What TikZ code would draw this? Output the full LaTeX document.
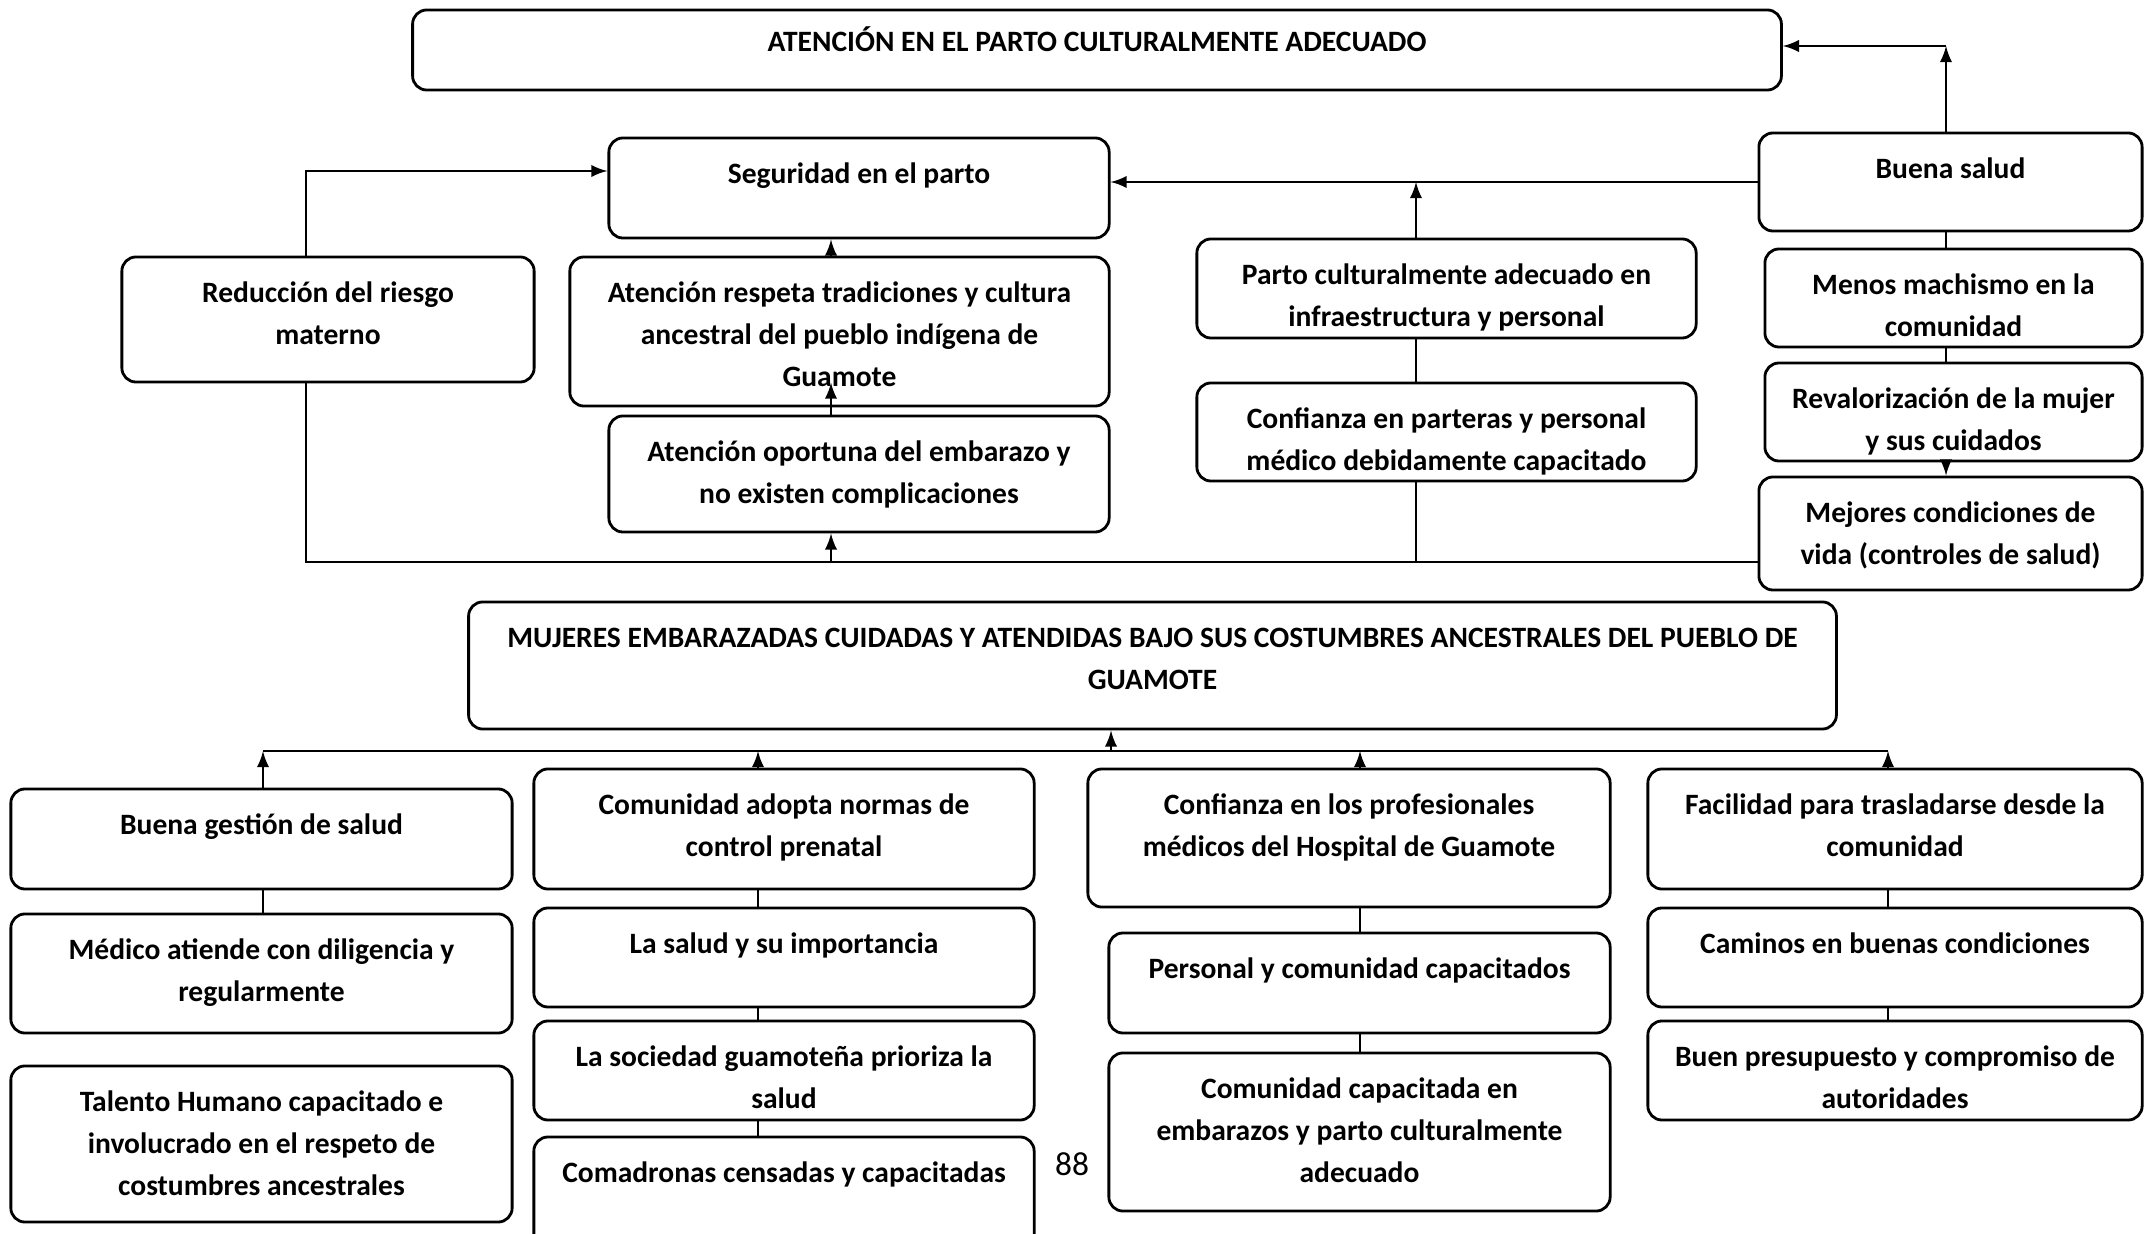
\documentclass[tikz,border=0pt]{standalone}
\usepackage{fontspec}
\setmainfont{Carlito}
\usepackage{tikz}
\usetikzlibrary{positioning}

\begin{document}
\begin{tikzpicture}[>=latex, x=0.01cm, y=-0.01cm,
    caja/.style={draw, rounded corners=4pt, line width=0.8pt},
    texto/.style={anchor=north, text width=13.6cm, align=flush center, inner sep=0pt, yshift=-0.175cm,
        font=\fontsize{8.4}{11.85}\selectfont\bfseries, execute at begin node=\strut},
    linea/.style={line width=0.6pt}]
    % Fondo y marco
    \fill[white] (0,0) rectangle (2145,1234);
    \useasboundingbox (0,0) rectangle (2145,1234);

    % Fines
    \node[caja, minimum width=13.68cm, minimum height=0.8cm,
        label={[texto, yshift=0.04cm]north:ATENCIÓN EN EL PARTO CULTURALMENTE ADECUADO}] (atencion) at (1097,50) {};
    \node[caja, minimum width=5cm, minimum height=1cm,
        label={[texto]north:Seguridad en el parto}] (seg) at (859,188) {};
    \node[caja, minimum width=3.83cm, minimum height=0.98cm,
        label={[texto]north:Buena salud}] (salud) at (1950.5,182) {};
    \node[caja, minimum width=4.12cm, minimum height=1.25cm,
        label={[texto]north:Reducción del riesgo\\materno}] (reduc) at (328,319.5) {};
    \node[caja, minimum width=5.39cm, minimum height=1.49cm,
        label={[texto]north:Atención respeta tradiciones y cultura\\ancestral del pueblo  indígena de\\Guamote}] (respeta) at (839.5,331.5) {};
    \node[caja, minimum width=5cm, minimum height=1.16cm,
        label={[texto]north:Atención oportuna del embarazo y\\no existen complicaciones}] (oportuna) at (859,474) {};
    \node[caja, minimum width=4.99cm, minimum height=0.99cm,
        label={[texto]north:Parto culturalmente adecuado en\\infraestructura y personal}] (parto) at (1446.5,288.5) {};
    \node[caja, minimum width=4.99cm, minimum height=0.98cm,
        label={[texto]north:Confianza en parteras y personal\\médico debidamente capacitado}] (parteras) at (1446.5,432) {};
    \node[caja, minimum width=3.77cm, minimum height=0.98cm,
        label={[texto]north:Menos machismo en la\\comunidad}] (menos) at (1953.5,298) {};
    \node[caja, minimum width=3.77cm, minimum height=0.98cm,
        label={[texto]north:Revalorización de la mujer\\y sus cuidados}] (reval) at (1953.5,412) {};
    \node[caja, minimum width=3.83cm, minimum height=1.13cm,
        label={[texto]north:Mejores condiciones de\\vida (controles de salud)}] (mejores) at (1950.5,533.5) {};

    % Objetivo central
    \node[caja, minimum width=13.67cm, minimum height=1.27cm,
        label={[texto]north:MUJERES EMBARAZADAS CUIDADAS Y ATENDIDAS BAJO SUS COSTUMBRES ANCESTRALES DEL PUEBLO DE\\GUAMOTE}] (mujeres) at (1152.5,665.5) {};

    % Medios
    \node[caja, minimum width=5.01cm, minimum height=1cm,
        label={[texto]north:Buena gestión de salud}] (gestion) at (261.5,839) {};
    \node[caja, minimum width=5.01cm, minimum height=1.19cm,
        label={[texto]north:Médico atiende con diligencia y\\regularmente}] (medico) at (261.5,973.5) {};
    \node[caja, minimum width=5.01cm, minimum height=1.56cm,
        label={[texto]north:Talento Humano capacitado e\\involucrado en el respeto de\\costumbres ancestrales}] (talento) at (261.5,1144) {};
    \node[caja, minimum width=5cm, minimum height=1.2cm,
        label={[texto]north:Comunidad adopta normas de\\control prenatal}] (adopta) at (784,829) {};
    \node[caja, minimum width=5cm, minimum height=0.99cm,
        label={[texto]north:La salud y su importancia}] (lasalud) at (784,957.5) {};
    \node[caja, minimum width=5cm, minimum height=0.99cm,
        label={[texto]north:La sociedad guamoteña prioriza la\\salud}] (sociedad) at (784,1070.5) {};
    \node[caja, minimum width=5cm, minimum height=1.13cm,
        label={[texto]north:Comadronas censadas y capacitadas}] (comadronas) at (784,1193.5) {};
    \node[caja, minimum width=5.22cm, minimum height=1.38cm,
        label={[texto]north:Confianza en los profesionales\\médicos del Hospital de Guamote}] (prof) at (1349,838) {};
    \node[caja, minimum width=5.01cm, minimum height=1cm,
        label={[texto]north:Personal y comunidad capacitados}] (personal) at (1359.5,983) {};
    \node[caja, minimum width=5.01cm, minimum height=1.58cm,
        label={[texto]north:Comunidad capacitada en\\embarazos y parto culturalmente\\adecuado}] (comcap) at (1359.5,1132) {};
    \node[caja, minimum width=4.94cm, minimum height=1.2cm,
        label={[texto]north:Facilidad para trasladarse desde la\\comunidad}] (facilidad) at (1895,829) {};
    \node[caja, minimum width=4.94cm, minimum height=0.99cm,
        label={[texto]north:Caminos en buenas condiciones}] (caminos) at (1895,957.5) {};
    \node[caja, minimum width=4.94cm, minimum height=0.99cm,
        label={[texto]north:Buen presupuesto y compromiso de\\autoridades}] (presupuesto) at (1895,1070.5) {};

    % Numero de pagina
    \node[font=\fontsize{9.5}{11}\selectfont] (pagina) at (1072,1164) {88};

    % Puntos de quiebre
    \coordinate (esqA) at (1946,46);
    \coordinate (esqS) at (306,171);
    \coordinate (esqR) at (306,562);
    \coordinate (ejeP) at (1416,562);
    \coordinate (ejeA) at (831,562);
    \coordinate (b1) at (263,751);
    \coordinate (b2) at (758,751);
    \coordinate (bM) at (1111,751);
    \coordinate (b3) at (1360,751);
    \coordinate (b4) at (1888,751);

    % Conexiones de la parte de arriba
    \draw[linea,->] (salud.north -| esqA) -- (esqA);
    \draw[linea,->] (esqA) -- (atencion.east |- esqA);
    \draw[linea,->] (salud.west) -- (seg.east |- salud.west);
    \draw[linea,->] (parto.north -| ejeP) -- (salud.west -| ejeP);
    \draw[linea] (parto.south -| ejeP) -- (parteras.north -| ejeP);
    \draw[linea] (parteras.south -| ejeP) -- (ejeP);
    \draw[linea] (mejores.west |- esqR) -- (esqR) -- (reduc.south -| esqR);
    \draw[linea,->] (reduc.north -| esqS) -- (esqS) -- (seg.west |- esqS);
    \draw[linea,->] (ejeA) -- (oportuna.south -| ejeA);
    \draw[linea,->] (oportuna.north -| ejeA) -- ++(0,-32);
    \draw[linea,->] (respeta.north -| ejeA) -- (seg.south -| ejeA);
    \draw[linea] (salud.south -| esqA) -- (menos.north -| esqA);
    \draw[linea] (menos.south -| esqA) -- (reval.north -| esqA);
    \draw[linea,->] (reval.south -| esqA) -- (mejores.north -| esqA);

    % Conexiones de la parte de abajo
    \draw[linea] (b1) -- (b4);
    \draw[linea,->] (bM) -- (mujeres.south -| bM);
    \draw[linea,->] (gestion.north -| b1) -- (b1);
    \draw[linea,->] (adopta.north -| b2) -- (b2);
    \draw[linea,->] (prof.north -| b3) -- (b3);
    \draw[linea,->] (facilidad.north -| b4) -- (b4);
    \draw[linea] (gestion.south -| b1) -- (medico.north -| b1);
    \draw[linea] (adopta.south -| b2) -- (lasalud.north -| b2);
    \draw[linea] (lasalud.south -| b2) -- (sociedad.north -| b2);
    \draw[linea] (sociedad.south -| b2) -- (comadronas.north -| b2);
    \draw[linea] (prof.south -| b3) -- (personal.north -| b3);
    \draw[linea] (personal.south -| b3) -- (comcap.north -| b3);
    \draw[linea] (facilidad.south -| b4) -- (caminos.north -| b4);
    \draw[linea] (caminos.south -| b4) -- (presupuesto.north -| b4);
\end{tikzpicture}
\end{document}
